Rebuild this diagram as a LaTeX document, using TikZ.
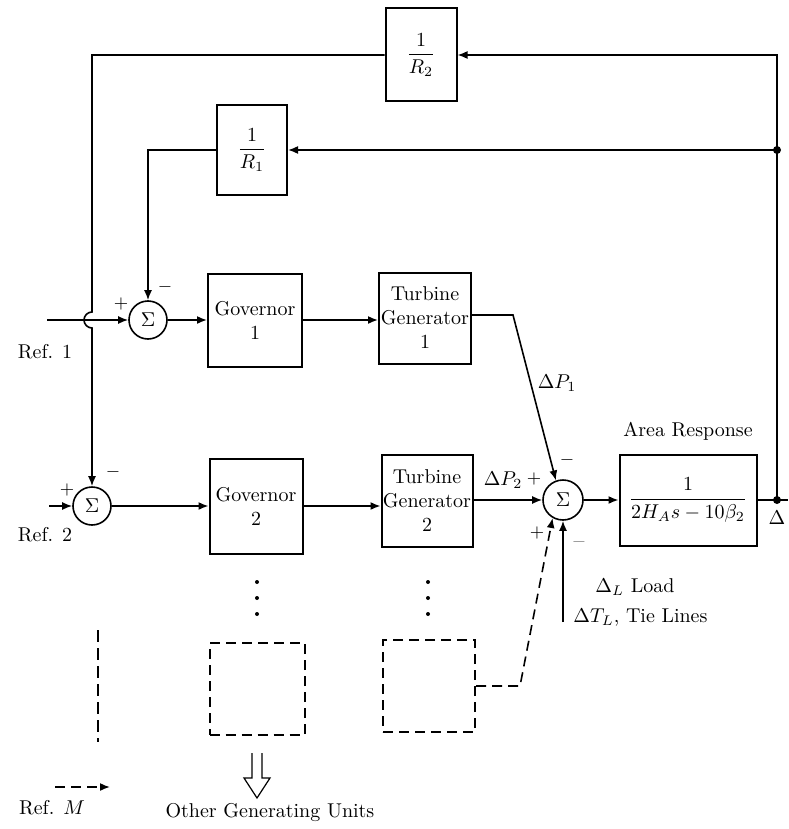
\documentclass[tikz,border=0pt]{standalone}
\usepackage{amsmath}
\usetikzlibrary{arrows.meta, positioning}

\begin{document}
\begin{tikzpicture}[x=0.5pt, y=-0.5pt, line width=0.8pt,
  blk/.style={draw, line width=1pt, inner sep=0pt, align=center},
  sumnode/.style={draw, circle, inner sep=0pt, minimum size=19pt},
  sgn/.style={font=\small},
  dashes/.style={dash pattern=on 5pt off 3pt},
  >={Latex[length=5pt,width=4pt]}]
\useasboundingbox (0,0) rectangle (788,829);
% feedback blocks
\node [blk, minimum width=35.5pt, minimum height=46.5pt] (r2) at (421,55) {$\dfrac{1}{R_2}$};
\node [blk, minimum width=35pt, minimum height=45pt] (r1) at (252,150) {$\dfrac{1}{R_1}$};
% unit 1
\node [sumnode] (s1) at (148,320) {$\Sigma$};
\node [blk, minimum width=47pt, minimum height=46.5pt] (gov1) at (255,320) {Governor\\1};
\node [blk, minimum width=46pt, minimum height=45.5pt] (tg1) at (425,318) {Turbine\\Generator\\1};
% unit 2
\node [sumnode] (s2) at (92,506) {$\Sigma$};
\node [blk, minimum width=46.5pt, minimum height=47.5pt] (gov2) at (256,506) {Governor\\2};
\node [blk, minimum width=45.5pt, minimum height=46pt] (tg2) at (427,501) {Turbine\\Generator\\2};
% area
\node [sumnode, minimum size=20pt] (s3) at (563,500) {$\Sigma$};
\node [blk, minimum width=68.5pt, minimum height=45.5pt] (area) at (688,500) {$\dfrac{1}{2H_A s - 10\beta_2}$};
\node [above=3pt of area] (arealbl) {Area Response};
% unit M
\node [blk, dashes, minimum width=47.5pt, minimum height=46pt] (govm) at (257,689) {};
\node [blk, dashes, minimum width=46pt, minimum height=46pt] (tgm) at (429,686) {};

\coordinate (ref1) at (47,320);
\coordinate (ref2) at (49,506);
\coordinate (dotA) at (777,150);
\coordinate (dotB) at (777,500);
\coordinate (outR) at (788,500);
\coordinate (topR) at (777,55);
\coordinate (tg1R) at (513,315);
\coordinate (load) at (565,622);
\coordinate (tgmR) at (520,686);
\coordinate (refMa) at (55,787);
\coordinate (refMb) at (110,787);

% connectors
\draw (area.east) -- (outR);
\draw [->] (dotB) -- (topR) -- (r2.east);
\draw [->] (dotA) -- (r1.east);
\fill (dotA) circle (2pt);
\fill (dotB) circle (2pt);
\draw [->] (r1.west) -- (r1.west -| s1.north) -- (s1.north);
\draw [->] (r2.west) -- (r2.west -| s2.north) -- ([yshift=4pt] s2.north |- s1) arc (90:270:4pt) -- (s2.north);
\draw [->] (ref1) -- (s1.west);
\draw [->] (ref2) -- (s2.west);
\draw [->] (s1.east) -- (gov1.west);
\draw [->] (gov1.east) -- (gov1.east -| tg1.west);
\draw [->] (s2.east) -- (gov2.west);
\draw [->] (gov2.east) -- (gov2.east -| tg2.west);
\draw [->] (tg1.east |- tg1R) -- (tg1R) -- (s3.110);
\draw [->] (tg2.east |- s3.west) -- (s3.west);
\draw [->] (s3.east) -- (area.west |- s3.east);
\draw [->] (s3.south |- load) -- (s3.south);
\draw [->, dashes] (tgm.east) -- (tgmR) -- (s3.240);
\draw [->, dashes] (refMa) -- (refMb);
\draw [dash pattern=on 6pt off 3pt] (98,630) -- (98,742);
\foreach \y in {582,598,614} {
  \fill (257,\y) circle (1pt);
  \fill (428,\y) circle (1pt);
}
% other units arrow
\draw [line width=0.6pt] (252,753) -- (252,778) -- (244,778) -- (257,798) -- (270,778) -- (262,778) -- (262,753);

% labels
\node (dp1) at (557,383) {$\Delta P_1$};
\node (dp2) at (503,480) {$\Delta P_2$};
\node [sgn] at (534,479) {$+$};
\node [sgn] at (567,460) {$-$};
\node [sgn] at (537,533) {$+$};
\node [sgn, black!50] at (579,542) {$-$};
\node [sgn] at (121,304) {$+$};
\node [sgn] at (165,287) {$-$};
\node [sgn] at (67,490) {$+$};
\node [sgn] at (113,472) {$-$};
\node [anchor=west] at (588,587) {$\Delta_L$ Load};
\node [anchor=west] at (566,618) {$\Delta T_L$, Tie Lines};
\node at (45,352) {Ref. 1};
\node at (45,535) {Ref. 2};
\node at (52,808) {Ref. $M$};
\node at (270,812) {Other Generating Units};
\node [anchor=east, inner sep=1pt] at (788,518) {$\Delta$};
\end{tikzpicture}
\end{document}
